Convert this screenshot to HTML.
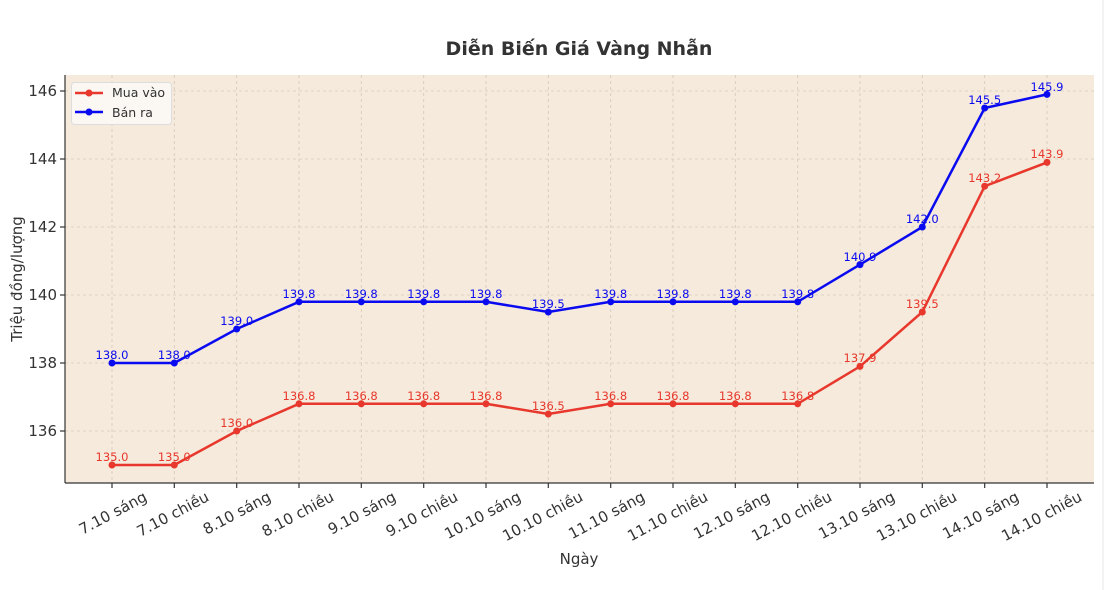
<!DOCTYPE html>
<html><head><meta charset="utf-8"><style>body{margin:0;background:#fff}svg{display:block;font-family:"DejaVu Sans","Liberation Sans",sans-serif}</style></head><body>
<svg width="1106" height="590" viewBox="0 0 1106 590">
<rect width="1106" height="590" fill="#fff"/>
<line x1="1103" y1="0" x2="1103" y2="590" stroke="#e4e4e4"/>
<rect x="65" y="75" width="1029" height="408" fill="#f5eadb"/>
<g stroke="#d6c9b8" stroke-dasharray="3,3" stroke-width="0.8">
<line x1="65" y1="91" x2="1094" y2="91"/><line x1="65" y1="159" x2="1094" y2="159"/><line x1="65" y1="227" x2="1094" y2="227"/><line x1="65" y1="295" x2="1094" y2="295"/><line x1="65" y1="363" x2="1094" y2="363"/><line x1="65" y1="431" x2="1094" y2="431"/>
<line x1="112" y1="75" x2="112" y2="483"/><line x1="174.3" y1="75" x2="174.3" y2="483"/><line x1="236.7" y1="75" x2="236.7" y2="483"/><line x1="299" y1="75" x2="299" y2="483"/><line x1="361.3" y1="75" x2="361.3" y2="483"/><line x1="423.7" y1="75" x2="423.7" y2="483"/><line x1="486" y1="75" x2="486" y2="483"/><line x1="548.3" y1="75" x2="548.3" y2="483"/><line x1="610.7" y1="75" x2="610.7" y2="483"/><line x1="673" y1="75" x2="673" y2="483"/><line x1="735.3" y1="75" x2="735.3" y2="483"/><line x1="797.7" y1="75" x2="797.7" y2="483"/><line x1="860" y1="75" x2="860" y2="483"/><line x1="922.3" y1="75" x2="922.3" y2="483"/><line x1="984.7" y1="75" x2="984.7" y2="483"/><line x1="1047" y1="75" x2="1047" y2="483"/>
</g>
<g stroke="#333" stroke-width="1.2">
<line x1="65" y1="75" x2="65" y2="483"/><line x1="65" y1="483" x2="1094" y2="483"/>
<line x1="60" y1="91" x2="65" y2="91"/><line x1="60" y1="159" x2="65" y2="159"/><line x1="60" y1="227" x2="65" y2="227"/><line x1="60" y1="295" x2="65" y2="295"/><line x1="60" y1="363" x2="65" y2="363"/><line x1="60" y1="431" x2="65" y2="431"/>
<line x1="112" y1="483" x2="112" y2="488"/><line x1="174.3" y1="483" x2="174.3" y2="488"/><line x1="236.7" y1="483" x2="236.7" y2="488"/><line x1="299" y1="483" x2="299" y2="488"/><line x1="361.3" y1="483" x2="361.3" y2="488"/><line x1="423.7" y1="483" x2="423.7" y2="488"/><line x1="486" y1="483" x2="486" y2="488"/><line x1="548.3" y1="483" x2="548.3" y2="488"/><line x1="610.7" y1="483" x2="610.7" y2="488"/><line x1="673" y1="483" x2="673" y2="488"/><line x1="735.3" y1="483" x2="735.3" y2="488"/><line x1="797.7" y1="483" x2="797.7" y2="488"/><line x1="860" y1="483" x2="860" y2="488"/><line x1="922.3" y1="483" x2="922.3" y2="488"/><line x1="984.7" y1="483" x2="984.7" y2="488"/><line x1="1047" y1="483" x2="1047" y2="488"/>
</g>
<g font-size="15" fill="#333" text-anchor="end">
<text x="57" y="96">146</text><text x="57" y="164">144</text><text x="57" y="232">142</text><text x="57" y="300">140</text><text x="57" y="368">138</text><text x="57" y="436">136</text>
</g>
<g font-size="15" fill="#333" text-anchor="end">
<text transform="translate(148,500) rotate(-28)">7.10 sáng</text>
<text transform="translate(210,500) rotate(-28)">7.10 chiều</text>
<text transform="translate(272,500) rotate(-28)">8.10 sáng</text>
<text transform="translate(335,500) rotate(-28)">8.10 chiều</text>
<text transform="translate(397,500) rotate(-28)">9.10 sáng</text>
<text transform="translate(459,500) rotate(-28)">9.10 chiều</text>
<text transform="translate(522,500) rotate(-28)">10.10 sáng</text>
<text transform="translate(584,500) rotate(-28)">10.10 chiều</text>
<text transform="translate(646,500) rotate(-28)">11.10 sáng</text>
<text transform="translate(709,500) rotate(-28)">11.10 chiều</text>
<text transform="translate(771,500) rotate(-28)">12.10 sáng</text>
<text transform="translate(833,500) rotate(-28)">12.10 chiều</text>
<text transform="translate(896,500) rotate(-28)">13.10 sáng</text>
<text transform="translate(958,500) rotate(-28)">13.10 chiều</text>
<text transform="translate(1020,500) rotate(-28)">14.10 sáng</text>
<text transform="translate(1083,500) rotate(-28)">14.10 chiều</text>
</g>
<text x="579" y="55" font-size="19" font-weight="bold" fill="#333" text-anchor="middle">Diễn Biến Giá Vàng Nhẫn</text>
<text x="579" y="564" font-size="15" fill="#333" text-anchor="middle">Ngày</text>
<text transform="translate(22,279) rotate(-90)" font-size="15" fill="#333" text-anchor="middle">Triệu đồng/lượng</text>
<polyline fill="none" stroke="#e8372c" stroke-width="2.5" points="112,465 174.3,465 236.7,431 299,403.8 361.3,403.8 423.7,403.8 486,403.8 548.3,414 610.7,403.8 673,403.8 735.3,403.8 797.7,403.8 860,366.4 922.3,312 984.7,186.2 1047,162.4"/>
<polyline fill="none" stroke="#0a0af0" stroke-width="2.5" points="112,363 174.3,363 236.7,329 299,301.8 361.3,301.8 423.7,301.8 486,301.8 548.3,312 610.7,301.8 673,301.8 735.3,301.8 797.7,301.8 860,264.6 922.3,227 984.7,108 1047,94.4"/>
<g fill="#e8372c">
<circle cx="112" cy="465" r="3.5"/><circle cx="174.3" cy="465" r="3.5"/><circle cx="236.7" cy="431" r="3.5"/><circle cx="299" cy="403.8" r="3.5"/><circle cx="361.3" cy="403.8" r="3.5"/><circle cx="423.7" cy="403.8" r="3.5"/><circle cx="486" cy="403.8" r="3.5"/><circle cx="548.3" cy="414" r="3.5"/><circle cx="610.7" cy="403.8" r="3.5"/><circle cx="673" cy="403.8" r="3.5"/><circle cx="735.3" cy="403.8" r="3.5"/><circle cx="797.7" cy="403.8" r="3.5"/><circle cx="860" cy="366.4" r="3.5"/><circle cx="922.3" cy="312" r="3.5"/><circle cx="984.7" cy="186.2" r="3.5"/><circle cx="1047" cy="162.4" r="3.5"/>
</g>
<g fill="#0a0af0">
<circle cx="112" cy="363" r="3.5"/><circle cx="174.3" cy="363" r="3.5"/><circle cx="236.7" cy="329" r="3.5"/><circle cx="299" cy="301.8" r="3.5"/><circle cx="361.3" cy="301.8" r="3.5"/><circle cx="423.7" cy="301.8" r="3.5"/><circle cx="486" cy="301.8" r="3.5"/><circle cx="548.3" cy="312" r="3.5"/><circle cx="610.7" cy="301.8" r="3.5"/><circle cx="673" cy="301.8" r="3.5"/><circle cx="735.3" cy="301.8" r="3.5"/><circle cx="797.7" cy="301.8" r="3.5"/><circle cx="860" cy="264.6" r="3.5"/><circle cx="922.3" cy="227" r="3.5"/><circle cx="984.7" cy="108" r="3.5"/><circle cx="1047" cy="94.4" r="3.5"/>
</g>
<g font-size="11.5" fill="#e8372c" text-anchor="middle">
<text x="112" y="461">135.0</text><text x="174.3" y="461">135.0</text><text x="236.7" y="427">136.0</text><text x="299" y="400">136.8</text><text x="361.3" y="400">136.8</text><text x="423.7" y="400">136.8</text><text x="486" y="400">136.8</text><text x="548.3" y="410">136.5</text><text x="610.7" y="400">136.8</text><text x="673" y="400">136.8</text><text x="735.3" y="400">136.8</text><text x="797.7" y="400">136.8</text><text x="860" y="362">137.9</text><text x="922.3" y="308">139.5</text><text x="984.7" y="182">143.2</text><text x="1047" y="158">143.9</text>
</g>
<g font-size="11.5" fill="#0a0af0" text-anchor="middle">
<text x="112" y="359">138.0</text><text x="174.3" y="359">138.0</text><text x="236.7" y="325">139.0</text><text x="299" y="298">139.8</text><text x="361.3" y="298">139.8</text><text x="423.7" y="298">139.8</text><text x="486" y="298">139.8</text><text x="548.3" y="308">139.5</text><text x="610.7" y="298">139.8</text><text x="673" y="298">139.8</text><text x="735.3" y="298">139.8</text><text x="797.7" y="298">139.8</text><text x="860" y="261">140.9</text><text x="922.3" y="223">142.0</text><text x="984.7" y="104">145.5</text><text x="1047" y="91">145.9</text>
</g>
<rect x="71.5" y="82.5" width="100" height="42" rx="3" fill="#fbf7f2" stroke="#ddd"/>
<line x1="75" y1="93" x2="103" y2="93" stroke="#e8372c" stroke-width="2.5"/><circle cx="89" cy="93" r="3.5" fill="#e8372c"/>
<line x1="75" y1="112" x2="103" y2="112" stroke="#0a0af0" stroke-width="2.5"/><circle cx="89" cy="112" r="3.5" fill="#0a0af0"/>
<text x="112" y="97" font-size="12.5" fill="#333">Mua vào</text>
<text x="112" y="117" font-size="12.5" fill="#333">Bán ra</text>
</svg>
</body></html>
